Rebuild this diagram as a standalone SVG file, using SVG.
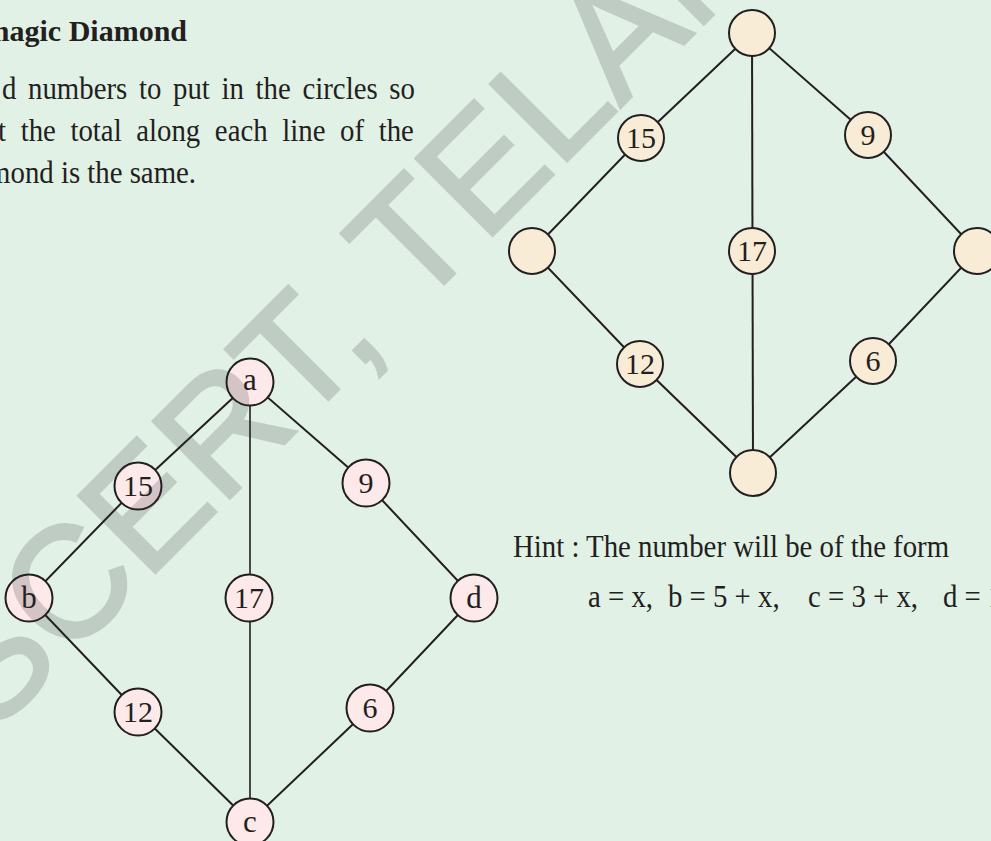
<svg xmlns="http://www.w3.org/2000/svg" width="991" height="841" viewBox="0 0 991 841">
<style>
.txt{font-family:"Liberation Serif","Times New Roman",serif;fill:#231f20}
.head{font-size:30px;font-weight:bold}
.body{font-size:32px}
.ln{stroke:#231f20;stroke-width:2;fill:none}
.cr{fill:#f9ecd7;stroke:#231f20;stroke-width:2}
.pk{fill:#fde8ea;stroke:#231f20;stroke-width:2}
.lab{font-family:"Liberation Serif","Times New Roman",serif;font-size:30px;fill:#231f20;text-anchor:middle}
.let{font-size:31px}
.wm{font-family:"Liberation Sans",Arial,sans-serif;font-size:158px;fill:#313131;stroke:#313131;stroke-width:3}
</style>
<rect x="0" y="0" width="991" height="841" fill="#e1f1e6"/>

<text class="txt head" x="187" y="41" text-anchor="end">magic Diamond</text>
<g transform="scale(0.9 1)">
  <text class="txt body" x="2.2" y="99" word-spacing="5">d numbers to put in the circles so</text>
  <text class="txt body" x="-2.2" y="141" word-spacing="8.25">t the total along each line of the</text>
  <text class="txt body" x="217.8" y="183" text-anchor="end">mond is the same.</text>
  <text class="txt body" x="570" y="557">Hint : The number will be of the form</text>
  <text class="txt body" x="653.3" y="607">a = x,</text>
  <text class="txt body" x="742.2" y="607">b = 5 + x,</text>
  <text class="txt body" x="897.8" y="607">c = 3 + x,</text>
  <text class="txt body" x="1047.8" y="607">d = 1</text>
</g>

<g id="connectors">
  <polyline class="ln" points="752,33 641,138 532,251 640,364 753,473 873,361 977,251 868,135 752,33"/>
  <line class="ln" x1="752" y1="33" x2="753" y2="473"/>
  <polyline class="ln" points="250,382 138,486 29,598 138,712 250,822 370,708 474,598 366,483 250,382"/>
  <line class="ln" x1="250" y1="382" x2="250" y2="822" style="stroke-width:1.6"/>
</g>

<g id="top-right">
  <g id="tr-top"><circle class="cr" cx="752" cy="33" r="23"/></g>
  <g id="tr-15"><circle class="cr" cx="641" cy="138" r="23"/><text class="lab" x="641" y="148">15</text></g>
  <g id="tr-9"><circle class="cr" cx="868" cy="135" r="23"/><text class="lab" x="868" y="145">9</text></g>
  <g id="tr-left"><circle class="cr" cx="532" cy="251" r="23"/></g>
  <g id="tr-17"><circle class="cr" cx="752" cy="251" r="23"/><text class="lab" x="752" y="261">17</text></g>
  <g id="tr-right"><circle class="cr" cx="977" cy="251" r="23"/></g>
  <g id="tr-12"><circle class="cr" cx="640" cy="364" r="23"/><text class="lab" x="640" y="374">12</text></g>
  <g id="tr-6"><circle class="cr" cx="873" cy="361" r="23"/><text class="lab" x="873" y="371">6</text></g>
  <g id="tr-bottom"><circle class="cr" cx="753" cy="473" r="23"/></g>
</g>

<g id="bottom-left">
  <g id="bl-a"><circle class="pk" cx="250" cy="382" r="23.5"/><text class="lab let" x="250" y="390">a</text></g>
  <g id="bl-15"><circle class="pk" cx="138" cy="486" r="23.5"/><text class="lab" x="138" y="496">15</text></g>
  <g id="bl-9"><circle class="pk" cx="366" cy="483" r="23.5"/><text class="lab" x="366" y="493">9</text></g>
  <g id="bl-b"><circle class="pk" cx="29" cy="598" r="23.5"/><text class="lab let" x="29" y="608">b</text></g>
  <g id="bl-17"><circle class="pk" cx="249" cy="598" r="23.5"/><text class="lab" x="249" y="608">17</text></g>
  <g id="bl-d"><circle class="pk" cx="474" cy="598" r="23.5"/><text class="lab let" x="474" y="608">d</text></g>
  <g id="bl-12"><circle class="pk" cx="138" cy="712" r="23.5"/><text class="lab" x="138" y="722">12</text></g>
  <g id="bl-6"><circle class="pk" cx="370" cy="708" r="23.5"/><text class="lab" x="370" y="718">6</text></g>
  <g id="bl-c"><circle class="pk" cx="250" cy="822" r="23.5"/><text class="lab let" x="250" y="832">c</text></g>
</g>

<g opacity="0.19">
  <text class="wm" x="0" y="0" transform="translate(-9 737) rotate(-45)">SCERT, TELANGANA</text>
</g>
</svg>
